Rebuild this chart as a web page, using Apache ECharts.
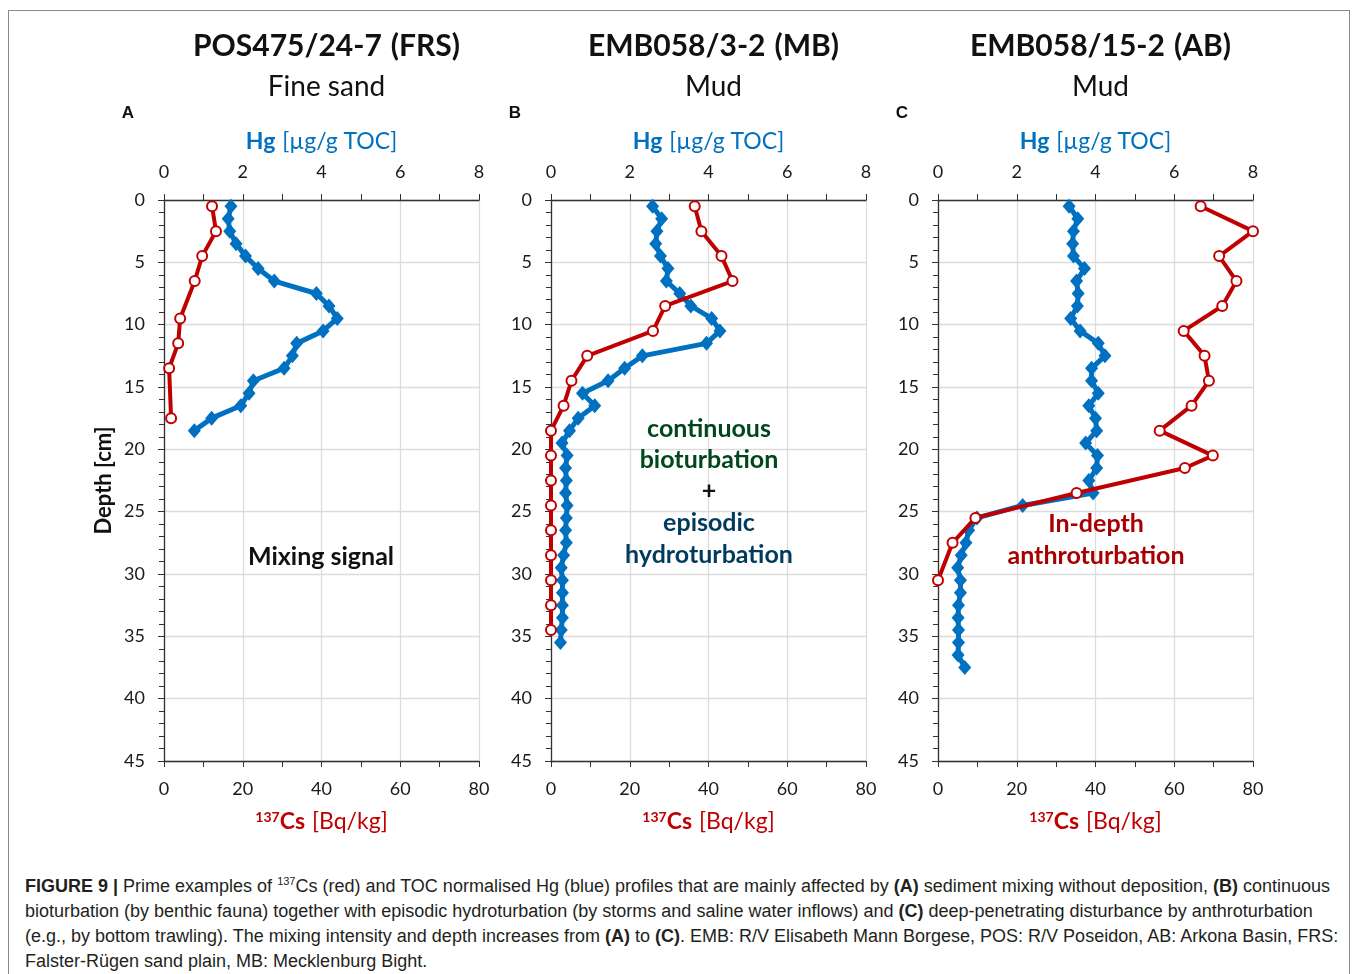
<!DOCTYPE html>
<html>
<head>
<meta charset="utf-8">
<script src="https://cdn.jsdelivr.net/npm/echarts@6/dist/echarts.min.js"></script>
<style>
  body { margin: 0; background: #fff; }
  #frame { position: absolute; left: 8px; top: 10px; width: 1340px; height: 980px; border: 1px solid #8a8a8a; }
  #chart { position: absolute; left: 0; top: 0; width: 1357px; height: 860px; }
  #caption { position: absolute; left: 25px; top: 874px; font-family: "Liberation Sans Narrow", "Liberation Sans", Arial, sans-serif; font-size: 18px; line-height: 25px; color: #231f20; }
  #caption div { white-space: nowrap; }
  #caption sup { font-size: 11px; vertical-align: 7px; line-height: 0; }
</style>
</head>
<body>
<div id="frame"></div>
<div id="chart"></div>
<div id="caption">
  <div><b>FIGURE 9 |</b> Prime examples of <sup>137</sup>Cs (red) and TOC normalised Hg (blue) profiles that are mainly affected by <b>(A)</b> sediment mixing without deposition, <b>(B)</b> continuous</div>
  <div>bioturbation (by benthic fauna) together with episodic hydroturbation (by storms and saline water inflows) and <b>(C)</b> deep-penetrating disturbance by anthroturbation</div>
  <div>(e.g., by bottom trawling). The mixing intensity and depth increases from <b>(A)</b> to <b>(C)</b>. EMB: R/V Elisabeth Mann Borgese, POS: R/V Poseidon, AB: Arkona Basin, FRS:</div>
  <div>Falster-Rügen sand plain, MB: Mecklenburg Bight.</div>
</div>
<script>
// panel texts
const panelLabels = ['A', 'B', 'C']
const coreIds = ['POS475/24-7', 'EMB058/3-2', 'EMB058/15-2']
const coreAreas = ['(FRS)', '(MB)', '(AB)']
const sediments = ['Fine sand', 'Mud', 'Mud']

// A: POS475/24-7
const hgDepthA = [0.5, 1.5, 2.5, 3.5, 4.5, 5.5, 6.5, 7.5, 8.5, 9.5, 10.5, 11.5, 12.5, 13.5, 14.5, 15.5, 16.5, 17.5, 18.5]
const hgA = [1.70, 1.63, 1.67, 1.83, 2.07, 2.39, 2.80, 3.87, 4.19, 4.40, 4.04, 3.37, 3.26, 3.05, 2.27, 2.16, 1.95, 1.21, 0.77]
const csDepthA = [0.5, 2.5, 4.5, 6.5, 9.5, 11.5, 13.5, 17.5]
const csA = [12.2, 13.2, 9.7, 7.8, 4.1, 3.6, 1.3, 1.8]

// B: EMB058/3-2
const hgDepthB = [0.5, 1.5, 2.5, 3.5, 4.5, 5.5, 6.5, 7.5, 8.5, 9.5, 10.5, 11.5, 12.5, 13.5, 14.5, 15.5, 16.5, 17.5, 18.5,
  19.5, 20.5, 21.5, 22.5, 23.5, 24.5, 25.5, 26.5, 27.5, 28.5, 29.5, 30.5, 31.5, 32.5, 33.5, 34.5, 35.5]
const hgB = [2.58, 2.81, 2.69, 2.66, 2.78, 2.97, 2.93, 3.27, 3.55, 4.08, 4.29, 3.95, 2.32, 1.87, 1.45, 0.80, 1.11, 0.69, 0.47,
  0.28, 0.41, 0.37, 0.39, 0.37, 0.41, 0.39, 0.37, 0.39, 0.32, 0.26, 0.29, 0.29, 0.29, 0.29, 0.26, 0.24]
const csDepthB = [0.5, 2.5, 4.5, 6.5, 8.5, 10.5, 12.5, 14.5, 16.5, 18.5, 20.5, 22.5, 24.5, 26.5, 28.5, 30.5, 32.5, 34.5]
const csB = [36.5, 38.2, 43.3, 46.1, 29.0, 25.9, 9.2, 5.2, 3.2, 0, 0, 0, 0, 0, 0, 0, 0, 0]

// C: EMB058/15-2
const hgDepthC = [0.5, 1.5, 2.5, 3.5, 4.5, 5.5, 6.5, 7.5, 8.5, 9.5, 10.5, 11.5, 12.5, 13.5, 14.5, 15.5, 16.5, 17.5, 18.5,
  19.5, 20.5, 21.5, 22.5, 23.5, 24.5, 25.5, 26.5, 27.5, 28.5, 29.5, 30.5, 31.5, 32.5, 33.5, 34.5, 35.5, 36.5, 37.5]
const hgC = [3.33, 3.55, 3.44, 3.42, 3.44, 3.72, 3.52, 3.56, 3.54, 3.37, 3.61, 4.07, 4.24, 3.90, 3.90, 4.07, 3.83, 4.00, 4.03,
  3.75, 4.05, 4.03, 3.83, 3.94, 2.15, 0.99, 0.78, 0.71, 0.59, 0.50, 0.57, 0.57, 0.52, 0.51, 0.52, 0.52, 0.51, 0.68]
const csDepthC = [0.5, 2.5, 4.5, 6.5, 8.5, 10.5, 12.5, 14.5, 16.5, 18.5, 20.5, 21.5, 23.5, 25.5, 27.5, 30.5]
const csC = [66.7, 80.0, 71.4, 75.8, 72.2, 62.4, 67.7, 68.8, 64.4, 56.3, 69.8, 62.7, 35.2, 9.5, 3.7, 0]

const hgSets = [[hgA, hgDepthA], [hgB, hgDepthB], [hgC, hgDepthC]]
const csSets = [[csA, csDepthA], [csB, csDepthB], [csC, csDepthC]]

const BLUE = '#0070c0'
const RED = '#c00000'
const FONT = 'Lato, "Open Sans", sans-serif'
const gridLefts = [164, 551, 938]
const gridTop = 200, gridW = 315, gridH = 561

const pairs = (vals, depths) => vals.map((v, i) => [v, depths[i]])

const grid = [], xAxis = [], yAxis = [], series = [], title = [], graphic = []

gridLefts.forEach((left, i) => {
  grid.push({ left, top: gridTop, width: gridW, height: gridH })
  const tickLabel = { fontSize: 18, color: '#1a1a1a', fontFamily: FONT, margin: 19 }
  // Cs axis (bottom)
  xAxis.push({
    gridIndex: i, type: 'value', position: 'bottom', min: 0, max: 80, interval: 20,
    axisLine: { show: true, onZero: false, lineStyle: { color: '#333', width: 1.3 } },
    axisTick: { show: true, length: 6, lineStyle: { color: '#333' } },
    minorTick: { show: true, splitNumber: 2, length: 6, lineStyle: { color: '#333' } },
    splitLine: { show: true, lineStyle: { color: '#dcdcdc', width: 1.3 } },
    axisLabel: tickLabel,
    name: '{sup|137}{b|Cs}{n|[Bq/kg]}', nameLocation: 'middle', nameGap: 49,
    nameTextStyle: { rich: {
      sup: { fontSize: 14, fontWeight: 'bold', color: RED, fontFamily: FONT, padding: [0, 0, 10, 0] },
      b: { fontSize: 23, fontWeight: 'bold', color: RED, fontFamily: FONT },
      n: { fontSize: 23, color: RED, fontFamily: FONT, padding: [0, 0, 0, 7] }
    } }
  })
  // Hg axis (top)
  xAxis.push({
    gridIndex: i, type: 'value', position: 'top', min: 0, max: 8, interval: 2,
    axisLine: { show: true, onZero: false, lineStyle: { color: '#333', width: 1.3 } },
    axisTick: { show: true, length: 6, lineStyle: { color: '#333' } },
    minorTick: { show: true, splitNumber: 2, length: 6, lineStyle: { color: '#333' } },
    splitLine: { show: false },
    axisLabel: tickLabel,
    name: '{b|Hg}{n|[µg/g TOC]}', nameLocation: 'middle', nameGap: 47,
    nameTextStyle: { rich: {
      b: { fontSize: 23, fontWeight: 'bold', color: BLUE, fontFamily: FONT },
      n: { fontSize: 23, color: BLUE, fontFamily: FONT, padding: [0, 0, 0, 7] }
    } }
  })
  yAxis.push({
    gridIndex: i, type: 'value', inverse: true, min: 0, max: 45, interval: 5,
    axisLine: { show: true, onZero: false, lineStyle: { color: '#333', width: 1.3 } },
    axisTick: { show: true, length: 6, lineStyle: { color: '#333' } },
    minorTick: { show: true, splitNumber: 5, length: 5, lineStyle: { color: '#333' } },
    splitLine: { show: true, lineStyle: { color: '#dcdcdc', width: 1.3 } },
    axisLabel: tickLabel,
    name: i === 0 ? 'Depth [cm]' : '', nameLocation: 'middle', nameGap: 49, nameRotate: 90,
    nameTextStyle: { fontSize: 22, fontWeight: 'bold', color: '#111', fontFamily: FONT }
  })

  series.push({
    type: 'line', xAxisIndex: i * 2 + 1, yAxisIndex: i,
    data: pairs(hgSets[i][0], hgSets[i][1]),
    symbol: 'diamond', symbolSize: [13, 15],
    lineStyle: { color: BLUE, width: 5 }, itemStyle: { color: BLUE },
    z: 3, animation: false
  })
  series.push({
    type: 'line', xAxisIndex: i * 2, yAxisIndex: i,
    data: pairs(csSets[i][0], csSets[i][1]),
    symbol: 'circle', symbolSize: 10,
    lineStyle: { color: RED, width: 4 }, itemStyle: { color: '#fff', borderColor: RED, borderWidth: 2 },
    z: 4, animation: false
  })

  const cx = left + gridW / 2
  title.push({
    text: '{b|' + coreIds[i] + '}{n|' + coreAreas[i] + '}', left: cx, top: 26, textAlign: 'center',
    textStyle: { rich: {
      b: { fontSize: 30, fontWeight: 'bold', color: '#111', fontFamily: FONT },
      n: { fontSize: 30, color: '#111', fontFamily: FONT, padding: [0, 0, 0, 9] }
    } }
  })
  title.push({
    text: sediments[i], left: cx, top: 68, textAlign: 'center',
    textStyle: { fontSize: 28, fontWeight: 'normal', color: '#111', fontFamily: FONT }
  })
  graphic.push({
    type: 'text', x: left - 36, y: 113,
    style: { text: panelLabels[i], font: 'bold 17px "Liberation Sans", Arial, sans-serif', fill: '#111', align: 'center', verticalAlign: 'middle' }
  })
})

// annotations inside the plots
const note = (text, x, y, fill, glow) => ({
  type: 'text', x, y, z: 10,
  style: { text, font: 'bold 25px ' + FONT, fill, align: 'center', verticalAlign: 'middle',
    shadowColor: glow, shadowBlur: glow ? 6 : 0 }
})
graphic.push(note('Mixing signal', 321, 557, '#111', null))
graphic.push(note('continuous', 709, 429, '#00471c', '#22c35a'))
graphic.push(note('bioturbation', 709, 460, '#00471c', '#22c35a'))
graphic.push(note('+', 709, 491, '#111', null))
graphic.push(note('episodic', 709, 523, '#003a5c', '#1aa8e8'))
graphic.push(note('hydroturbation', 709, 555, '#003a5c', '#1aa8e8'))
graphic.push(note('In-depth', 1096, 524, '#a80000', '#ff4040'))
graphic.push(note('anthroturbation', 1096, 556, '#a80000', '#ff4040'))

const myChart = echarts.init(document.getElementById('chart'))
myChart.setOption({ animation: false, title, grid, xAxis, yAxis, series, graphic })
</script>
</body>
</html>
